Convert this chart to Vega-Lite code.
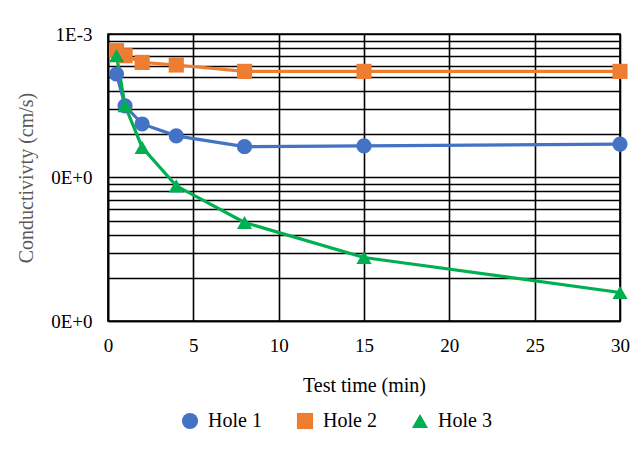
{
  "$schema": "https://vega.github.io/schema/vega-lite/v6.json",
  "width": 512,
  "height": 287,
  "autosize": {"type": "none"},
  "padding": {"left": 108, "top": 34, "right": 20, "bottom": 132},
  "background": "white",
  "data": {
    "values": [
      {"t": 0.5, "k": 5.26e-4, "s": "Hole 1"},
      {"t": 1, "k": 3.16e-4, "s": "Hole 1"},
      {"t": 2, "k": 2.36e-4, "s": "Hole 1"},
      {"t": 4, "k": 1.95e-4, "s": "Hole 1"},
      {"t": 8, "k": 1.64e-4, "s": "Hole 1"},
      {"t": 15, "k": 1.66e-4, "s": "Hole 1"},
      {"t": 30, "k": 1.71e-4, "s": "Hole 1"},
      {"t": 0.5, "k": 7.65e-4, "s": "Hole 2"},
      {"t": 1, "k": 7.06e-4, "s": "Hole 2"},
      {"t": 2, "k": 6.34e-4, "s": "Hole 2"},
      {"t": 4, "k": 6.08e-4, "s": "Hole 2"},
      {"t": 8, "k": 5.49e-4, "s": "Hole 2"},
      {"t": 15, "k": 5.49e-4, "s": "Hole 2"},
      {"t": 30, "k": 5.49e-4, "s": "Hole 2"},
      {"t": 0.5, "k": 7.06e-4, "s": "Hole 3"},
      {"t": 1, "k": 3.16e-4, "s": "Hole 3"},
      {"t": 2, "k": 1.62e-4, "s": "Hole 3"},
      {"t": 4, "k": 8.75e-5, "s": "Hole 3"},
      {"t": 8, "k": 4.86e-5, "s": "Hole 3"},
      {"t": 15, "k": 2.77e-5, "s": "Hole 3"},
      {"t": 30, "k": 1.58e-5, "s": "Hole 3"}
    ]
  },
  "encoding": {
    "x": {
      "field": "t", "type": "quantitative",
      "scale": {"domain": [0, 30], "nice": false, "zero": false},
      "axis": {
        "title": "Test time (min)",
        "values": [0, 5, 10, 15, 20, 25, 30],
        "grid": true, "gridColor": "#000000", "gridWidth": 1.6, "gridOpacity": 1,
        "domain": true, "domainColor": "#000000", "domainWidth": 1.6,
        "ticks": false, "labelPadding": 15, "labelFlush": false,
        "labelFont": "Liberation Serif", "labelFontSize": 19, "labelColor": "#000000",
        "titleFont": "Liberation Serif", "titleFontSize": 20, "titleFontWeight": "normal",
        "titleColor": "#000000", "titlePadding": 20
      }
    },
    "y": {
      "field": "k", "type": "quantitative",
      "scale": {"type": "log", "domain": [0.00001, 0.001], "nice": false},
      "axis": {
        "title": "Conductivivty (cm/s)",
        "values": [0.00001, 0.00002, 0.00003, 0.00004, 0.00005, 0.00006, 0.00007, 0.00008, 0.00009,
                   0.0001, 0.0002, 0.0003, 0.0004, 0.0005, 0.0006, 0.0007, 0.0008, 0.0009, 0.001],
        "labelExpr": "datum.value > 0.00095 ? '1E-3' : (abs(datum.value - 0.0001) < 0.000001 || abs(datum.value - 0.00001) < 0.0000001) ? '0E+0' : ''",
        "labelOverlap": false,
        "grid": true, "gridColor": "#000000", "gridWidth": 1.6, "gridOpacity": 1,
        "domain": true, "domainColor": "#000000", "domainWidth": 1.6,
        "ticks": false, "labelPadding": 16, "labelFlush": false,
        "labelFont": "Liberation Serif", "labelFontSize": 19, "labelColor": "#000000",
        "titleFont": "Liberation Serif", "titleFontSize": 20, "titleFontWeight": "normal",
        "titleColor": "#595959", "titlePadding": 14
      }
    },
    "color": {
      "field": "s", "type": "nominal",
      "scale": {"domain": ["Hole 1", "Hole 2", "Hole 3"], "range": ["#4472C4", "#ED7D31", "#00B050"]},
      "legend": {
        "title": null, "orient": "none", "direction": "horizontal",
        "legendX": 72, "legendY": 377,
        "labelFont": "Liberation Serif", "labelFontSize": 20, "labelColor": "#000000",
        "symbolSize": 260, "symbolStrokeWidth": 0, "columnPadding": 33, "labelOffset": 8
      }
    }
  },
  "layer": [
    {
      "mark": {"type": "line", "strokeWidth": 3.2},
      "encoding": {"detail": {"field": "s"}}
    },
    {
      "mark": {"type": "point", "filled": true, "opacity": 1},
      "encoding": {
        "shape": {
          "field": "s", "type": "nominal",
          "scale": {"domain": ["Hole 1", "Hole 2", "Hole 3"], "range": ["circle", "square", "triangle-up"]},
          "legend": {
            "title": null, "orient": "none", "direction": "horizontal",
            "legendX": 72, "legendY": 377,
            "labelFont": "Liberation Serif", "labelFontSize": 20, "labelColor": "#000000",
            "symbolSize": 260, "symbolStrokeWidth": 0, "columnPadding": 33, "labelOffset": 8
          }
        },
        "size": {"value": 230}
      }
    }
  ],
  "config": {"view": {"stroke": "#000000", "strokeWidth": 1.6}}
}
